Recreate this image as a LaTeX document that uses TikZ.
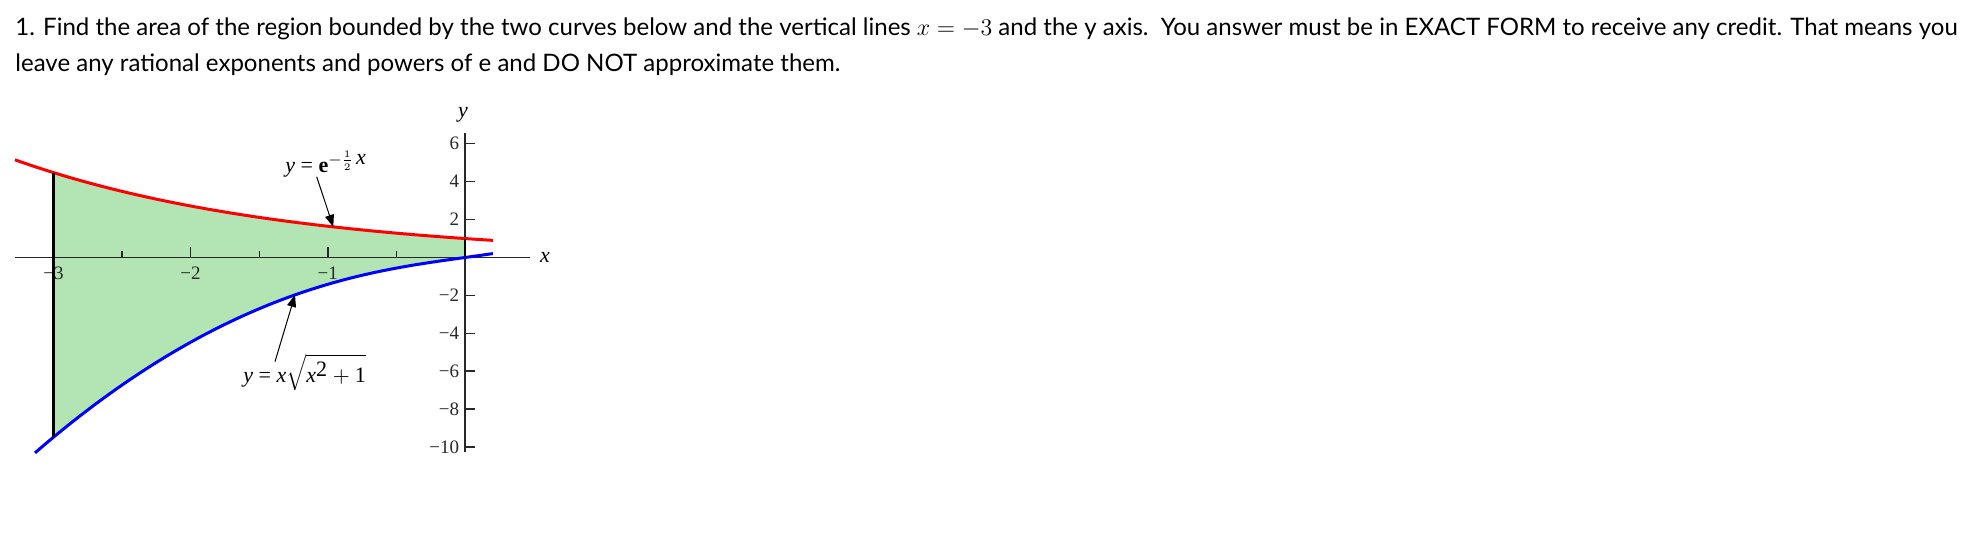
\documentclass[tikz,border=0pt]{standalone}
\usepackage{fontspec}
\usetikzlibrary{arrows.meta,positioning}
\newfontfamily\latofont{Lato}
\newfontfamily\timesfont{Liberation Serif}[ItalicFont={Liberation Serif Italic}, BoldFont={Liberation Serif Bold}]
\definecolor{areagreen}{RGB}{179,228,179}
\definecolor{axisgray}{RGB}{40,40,40}
\tikzset{
  question/.style={anchor=base west, inner sep=0pt, font=\latofont\fontsize{12.02}{14}\selectfont},
  axisline/.style={axisgray, line width=0.85pt},
  ticklbl/.style={font=\timesfont\fontsize{9.5}{11}\selectfont, text=axisgray},
  axislbl/.style={font=\timesfont\itshape\fontsize{11}{13}\selectfont},
  curvelbl/.style={anchor=base west, inner sep=0pt, font=\timesfont\fontsize{11}{13}\selectfont},
  pointer/.style={-{Triangle[length=6pt, width=4.5pt]}, line width=0.5pt}
}

\begin{document}
\begin{tikzpicture}[x=0.5pt, y=0.5pt]
  \useasboundingbox (0,0) rectangle (1978,547);

  % --- 問題文 ---
  \node[question] (qline1) at (15,511.3) {1. Find the area of the region bounded by the two curves below and the vertical lines $x = -3$ and the y axis.\ \ You answer must be in EXACT FORM to receive any credit. That means you};
  \node[question] (qline2) at (15,475.3) {leave any rational exponents and powers of e and DO NOT approximate them.};

  \begin{scope}[shift={(465,289.5)}, x=68.6pt, y=9.475pt]
    % --- 領域の塗りつぶし ---
    \fill[areagreen] plot[domain=-3:0, smooth, variable=\x] ({\x}, {exp(-0.5*(\x))})
      -- plot[domain=0:-3, smooth, variable=\x] ({\x}, {(\x)*sqrt((\x)*(\x)+1)}) -- cycle;

    % --- 座標軸の描画 ---
    \draw[axisline] (-3.28,0) -- (0.474,0);
    \draw[axisline] (0,-10.25) -- (0,6.55);
    \node[axislbl] (xname) at (0.583,0) {x};
    \node[axislbl] (yname) at (-0.015,7.52) {y};

    % --- 目盛りの描画 ---
    % x軸の目盛りとラベル
    \foreach \x/\label in {-3/−3, -2/−2, -1/−1} {
        \draw[axisline, line width=0.7pt] (\x,0) -- ++(0,5.3pt);
        \node[ticklbl, yshift=-7.8pt] (xtick\x) at (\x,0) {\label};
    }
    \foreach \x in {-2.5,-1.5,-0.5} {
        \draw[axisline, line width=0.7pt] (\x,0) -- ++(0,3.2pt);
    }
    % y軸の目盛りとラベル
    \foreach \y/\label in {6/6, 4/4, 2/2, -2/−2, -4/−4, -6/−6, -8/−8, -10/−10} {
        \draw[axisline, line width=0.7pt] (0,\y) -- ++(5pt,0);
        \node[ticklbl, left, inner sep=2.8pt] (ytick\y) at (0,\y) {\label};
    }

    % --- 関数のプロット ---
    \draw[domain=-3.28:0.204, smooth, samples=60, variable=\x, red, line width=1.5pt]
        plot ({\x}, {exp(-0.5*(\x))});
    \draw[domain=-3.134:0.204, smooth, samples=60, variable=\x, blue, line width=1.5pt]
        plot ({\x}, {(\x)*sqrt((\x)*(\x)+1)});

    % --- 境界の縦線 ---
    \draw[black, line width=1.4pt] (-3,{exp(1.5)}) -- (-3,{-3*sqrt(10)});
    \draw[black, line width=1.4pt] (0,0) -- (0,1);

    % --- 曲線の名前と矢印 ---
    \node[curvelbl] (lblred) at (-1.312,4.46) {\textit{y} = \textbf{e}$^{-\frac{1}{2}\,\textit{x}}$};
    \node[curvelbl] (lblblue) at (-1.618,-6.62) {\textit{y} = $\textit{x}\sqrt{\textit{x}^{\textup{2}}+\textup{1}}$};
    \coordinate (tailred) at (-1.081,4.26);
    \coordinate (tipred) at (-0.96,1.616);
    \coordinate (tailblue) at (-1.385,-5.50);
    \coordinate (tipblue) at (-1.239,-1.973);
    \draw[pointer] (tailred) -- (tipred);
    \draw[pointer] (tailblue) -- (tipblue);
  \end{scope}
\end{tikzpicture}
\end{document}
